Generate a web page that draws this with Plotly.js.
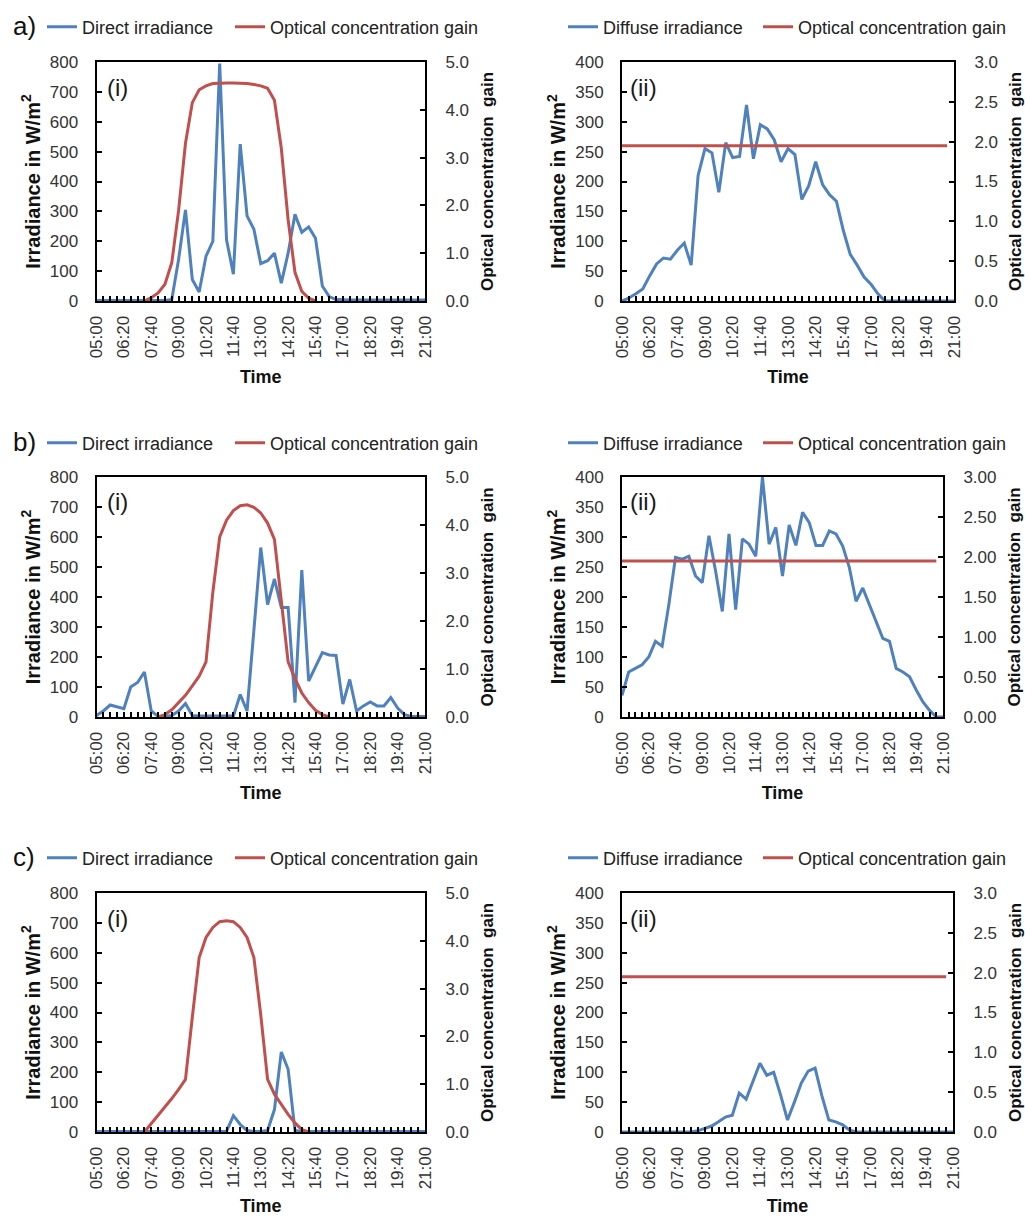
<!DOCTYPE html>
<html><head><meta charset="utf-8">
<script src="https://cdn.plot.ly/plotly-3.0.1.min.js"></script>
<style>html,body{margin:0;padding:0;background:#fff}#chart{width:1025px;height:1216px}</style>
</head><body><div id="chart"></div>
<script>
// ---- categories (20-minute steps) ----
const times = ['05:00','05:20','05:40','06:00','06:20','06:40','07:00','07:20','07:40','08:00','08:20','08:40',
  '09:00','09:20','09:40','10:00','10:20','10:40','11:00','11:20','11:40','12:00','12:20','12:40',
  '13:00','13:20','13:40','14:00','14:20','14:40','15:00','15:20','15:40','16:00','16:20','16:40',
  '17:00','17:20','17:40','18:00','18:20','18:40','19:00','19:20','19:40','20:00','20:20','20:40','21:00'];

// ---- a) ----
const directA = [2,2,2,2,2,2,2,2,2,2,2,5,140,305,72,30,150,200,795,205,90,525,285,240,125,135,160,60,160,290,230,248,210,50,15,5,3,3,3,3,3,3,3,3,3,3,3,3,3];
const gainDirectA = [null,null,null,null,null,null,null,0,0.07,0.17,0.35,0.8,1.9,3.3,4.15,4.42,4.5,4.55,4.56,4.56,4.56,4.56,4.55,4.53,4.5,4.45,4.2,3.2,1.7,0.6,0.2,0.06,0,null,null,null,null,null,null,null,null,null,null,null,null,null,null,null,null];
const diffuseA = [0,5,12,20,42,62,72,70,85,97,60,210,255,248,182,265,240,242,328,238,295,288,270,233,255,245,170,193,233,195,178,167,118,78,60,40,28,12,0,0,0,0,0,0,0,0,0,0,0];
const gainDiffuseA = [1.95,1.95,1.95,1.95,1.95,1.95,1.95,1.95,1.95,1.95,1.95,1.95,1.95,1.95,1.95,1.95,1.95,1.95,1.95,1.95,1.95,1.95,1.95,1.95,1.95,1.95,1.95,1.95,1.95,1.95,1.95,1.95,1.95,1.95,1.95,1.95,1.95,1.95,1.95,1.95,1.95,1.95,1.95,1.95,1.95,1.95,1.95,1.95,null];

// ---- b) ----
const directB = [5,20,40,33,28,100,115,150,20,2,2,5,20,45,5,3,3,3,3,3,3,75,20,290,565,375,460,365,365,48,490,120,168,215,207,205,43,125,20,37,50,37,37,65,30,8,2,2,2];
const gainDirectB = [null,null,null,null,null,null,null,null,null,0,0.05,0.15,0.3,0.45,0.65,0.85,1.15,2.6,3.75,4.1,4.3,4.4,4.42,4.37,4.25,4.04,3.7,2.45,1.15,0.8,0.5,0.3,0.14,0.05,0,null,null,null,null,null,null,null,null,null,null,null,null,null,null];
const diffuseB = [36,75,81,87,100,126,118,187,266,263,268,235,224,302,243,176,305,179,297,288,268,400,288,316,235,320,286,341,324,286,286,310,305,285,249,193,215,187,162,131,126,81,75,67,45,25,11,0,0];
const gainDiffuseB = [1.95,1.95,1.95,1.95,1.95,1.95,1.95,1.95,1.95,1.95,1.95,1.95,1.95,1.95,1.95,1.95,1.95,1.95,1.95,1.95,1.95,1.95,1.95,1.95,1.95,1.95,1.95,1.95,1.95,1.95,1.95,1.95,1.95,1.95,1.95,1.95,1.95,1.95,1.95,1.95,1.95,1.95,1.95,1.95,1.95,1.95,1.95,1.95,null];

// ---- c) ----
const directC = [2,2,2,2,2,2,2,2,2,2,2,2,2,2,2,2,2,2,2,2,55,25,5,2,2,5,75,268,210,5,2,2,2,2,2,2,2,2,2,2,2,2,2,2,2,2,2,2,2];
const gainDirectC = [null,null,null,null,null,null,null,0,0.17,0.35,0.53,0.7,0.89,1.1,2.4,3.65,4.07,4.28,4.4,4.42,4.4,4.28,4.07,3.65,2.45,1.1,0.79,0.58,0.37,0.19,0.05,0,null,null,null,null,null,null,null,null,null,null,null,null,null,null,null,null,null];
const diffuseC = [0,0,0,0,0,0,0,0,0,0,0,2,6,10,17,25,28,65,55,85,115,95,100,62,20,50,82,102,107,60,20,17,12,3,0,0,0,0,0,0,0,0,0,0,0,0,0,0,0];
const gainDiffuseC = [1.95,1.95,1.95,1.95,1.95,1.95,1.95,1.95,1.95,1.95,1.95,1.95,1.95,1.95,1.95,1.95,1.95,1.95,1.95,1.95,1.95,1.95,1.95,1.95,1.95,1.95,1.95,1.95,1.95,1.95,1.95,1.95,1.95,1.95,1.95,1.95,1.95,1.95,1.95,1.95,1.95,1.95,1.95,1.95,1.95,1.95,1.95,1.95,null];

// ---- text ----
const rowLabels = ['a)','b)','c)'];
const panelTags = ['(i)','(ii)'];
const irrNames = ['Direct irradiance','Diffuse irradiance'];
const gainName = 'Optical concentration gain';
const yTitle = 'Irradiance in W/m<sup>2</sup>';
const y2Title = 'Optical concentration  gain';
const xTitle = 'Time';

// ---- layout config ----
const W = 1025, H = 1216;
const FONT = '"Liberation Sans", Arial, sans-serif';
const BLUE = '#4F81BD', RED = '#C0504D';
const xs = times.map(t => '2000-01-01 ' + t);

const panels = [
  {irr: directA,  gain: gainDirectA,  name: irrNames[0], yMax: 800, yDt: 100, gMax: 5, gDt: 1,   gFmt: '.1f', dom: [96.5, 425, 62, 301], tag: 0, legs: [42, 230]},
  {irr: diffuseA, gain: gainDiffuseA, name: irrNames[1], yMax: 400, yDt: 50,  gMax: 3, gDt: 0.5, gFmt: '.1f', dom: [622, 954, 62, 301], tag: 1, legs: [563, 758]},
  {irr: directB,  gain: gainDirectB,  name: irrNames[0], yMax: 800, yDt: 100, gMax: 5, gDt: 1,   gFmt: '.1f', dom: [96.5, 425, 477, 717], tag: 0, legs: [42, 230]},
  {irr: diffuseB, gain: gainDiffuseB, name: irrNames[1], yMax: 400, yDt: 50,  gMax: 3, gDt: 0.5, gFmt: '.2f', dom: [622, 943, 477, 717], tag: 1, legs: [563, 758]},
  {irr: directC,  gain: gainDirectC,  name: irrNames[0], yMax: 800, yDt: 100, gMax: 5, gDt: 1,   gFmt: '.1f', dom: [96.5, 425, 893, 1132], tag: 0, legs: [42, 230]},
  {irr: diffuseC, gain: gainDiffuseC, name: irrNames[1], yMax: 400, yDt: 50,  gMax: 3, gDt: 0.5, gFmt: '.1f', dom: [622, 953, 893, 1132], tag: 1, legs: [563, 758]}
];
const legendY = [27, 443, 858];

const fx = p => p / W;
const fy = p => 1 - p / H;

const data = [];
const layout = {
  width: W, height: H,
  margin: {l: 0, r: 0, t: 0, b: 0},
  paper_bgcolor: '#fff', plot_bgcolor: 'rgba(0,0,0,0)',
  font: {family: FONT, size: 17, color: '#222'},
  annotations: [], showlegend: true
};

const tickFont = {family: FONT, size: 17, color: '#333'};
const xTitleFont = {family: FONT, size: 18, color: '#111', weight: 700};
const yTitleFont = {family: FONT, size: 20, color: '#111', weight: 700};
const y2TitleFont = {family: FONT, size: 17, color: '#111', weight: 700};
const legId = n => n === 1 ? 'legend' : 'legend' + n;

panels.forEach((p, i) => {
  const k = i + 1;
  const xa = 'xaxis' + (k === 1 ? '' : k);
  const xr = 'x' + (k === 1 ? '' : k);
  const yl = 2 * k - 1, yr = 2 * k;
  const yla = 'yaxis' + (yl === 1 ? '' : yl), yra = 'yaxis' + yr;
  const ylr = 'y' + (yl === 1 ? '' : yl), yrr = 'y' + yr;
  const legBlue = legId(2 * k - 1), legRed = legId(2 * k);

  data.push({x: xs, y: p.irr, type: 'scatter', mode: 'lines', name: p.name,
    line: {color: BLUE, width: 3}, xaxis: xr, yaxis: ylr, legend: legBlue});
  data.push({x: xs, y: p.gain, type: 'scatter', mode: 'lines', name: gainName,
    line: {color: RED, width: 3}, xaxis: xr, yaxis: yrr, legend: legRed, connectgaps: false});

  layout[xa] = {
    type: 'date', domain: [fx(p.dom[0]), fx(p.dom[1])], anchor: ylr,
    range: ['2000-01-01 05:00', '2000-01-01 21:00'],
    tick0: '2000-01-01 05:00', dtick: 80 * 60 * 1000, tickformat: '%H:%M',
    tickangle: -90, tickfont: tickFont, ticks: 'inside', ticklen: 5, tickwidth: 2, tickcolor: '#000',
    minor: {dtick: 20 * 60 * 1000, tick0: '2000-01-01 05:00', ticks: 'inside', ticklen: 5, tickwidth: 2, tickcolor: '#000', showgrid: false},
    showline: true, mirror: true, linecolor: '#000', linewidth: 2,
    showgrid: false, zeroline: false, ticklabelstandoff: 6,
    title: {text: xTitle, font: xTitleFont, standoff: 13}
  };
  layout[yla] = {
    domain: [fy(p.dom[3]), fy(p.dom[2])], anchor: xr, range: [0, p.yMax], dtick: p.yDt,
    ticks: 'inside', ticklen: 5, tickwidth: 2, tickcolor: '#000', tickfont: tickFont,
    showline: true, linecolor: '#000', linewidth: 2, showgrid: false, zeroline: false,
    ticklabelstandoff: 13,
    title: {text: yTitle, font: yTitleFont, standoff: 4}
  };
  layout[yra] = {
    overlaying: ylr, side: 'right', anchor: xr, range: [0, p.gMax], dtick: p.gDt, tickformat: p.gFmt,
    ticks: 'inside', ticklen: 5, tickwidth: 2, tickcolor: '#000', tickfont: tickFont,
    showline: true, linecolor: '#000', linewidth: 2, showgrid: false, zeroline: false,
    ticklabelstandoff: 15,
    title: {text: y2Title, font: y2TitleFont, standoff: 13}
  };
  [[legBlue, p.legs[0]], [legRed, p.legs[1]]].forEach(([id, px]) => {
    layout[id] = {
      orientation: 'h', x: fx(px), y: fy(legendY[Math.floor(i / 2)]), xanchor: 'left', yanchor: 'middle',
      font: {family: FONT, size: 18, color: '#222'}, bgcolor: 'rgba(0,0,0,0)', borderwidth: 0
    };
  });
  layout.annotations.push({
    text: panelTags[p.tag], xref: 'paper', yref: 'paper', x: fx(p.dom[0] + (p.tag ? 6 : 8)), y: fy(p.dom[2] + 25),
    xanchor: 'left', yanchor: 'middle', showarrow: false, font: {family: FONT, size: 24, color: '#1a1a1a'}
  });
});

rowLabels.forEach((t, r) => {
  layout.annotations.push({
    text: t, xref: 'paper', yref: 'paper', x: fx(11), y: fy(legendY[r] - 1),
    xanchor: 'left', yanchor: 'middle', showarrow: false, font: {family: FONT, size: 26, color: '#111'}
  });
});

Plotly.newPlot('chart', data, layout, {staticPlot: true, displayModeBar: false});
</script>
</body></html>
